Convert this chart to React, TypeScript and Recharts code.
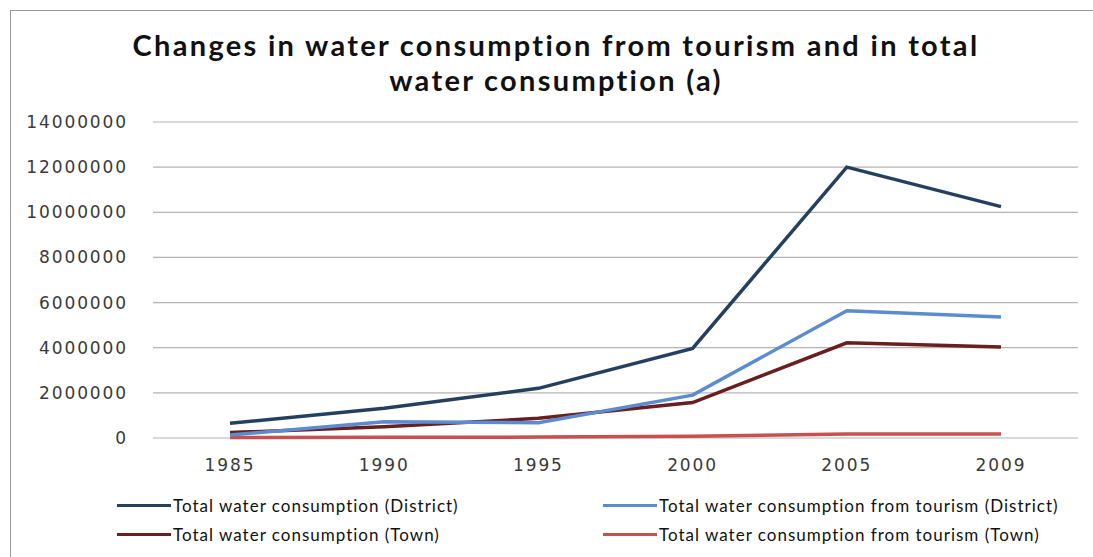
import { LineChart, Line, XAxis, YAxis, CartesianGrid } from "recharts";

const years = ["1985", "1990", "1995", "2000", "2005", "2009"];
const districtTotal = [650000, 1320000, 2200000, 3970000, 12000000, 10250000];
const districtTourism = [130000, 720000, 680000, 1900000, 5640000, 5360000];
const townTotal = [240000, 500000, 870000, 1570000, 4220000, 4030000];
const townTourism = [20000, 30000, 40000, 80000, 180000, 180000];
const yTicks = [0, 2000000, 4000000, 6000000, 8000000, 10000000, 12000000, 14000000];

const SERIES = [
  { key: "districtTotal", name: "Total water consumption (District)", color: "#253F5F" },
  { key: "districtTourism", name: "Total water consumption from tourism (District)", color: "#5B8BD0" },
  { key: "townTotal", name: "Total water consumption (Town)", color: "#6A1F1F" },
  { key: "townTourism", name: "Total water consumption from tourism (Town)", color: "#C8504F" },
];

const data = years.map((year, i) => ({
  year,
  districtTotal: districtTotal[i],
  districtTourism: districtTourism[i],
  townTotal: townTotal[i],
  townTourism: townTourism[i],
}));

const tickStyle = { fontFamily: "DejaVu Sans", fontSize: 17, fill: "#3a3a3a", letterSpacing: 1.9 };

export default function App() {
  return (
    <div style={{ position: "fixed", left: 0, top: 0, width: 1093, height: 557, overflow: "hidden", background: "#fff" }}>
      <div style={{ position: "absolute", left: 10, top: 10, width: 1200, height: 700, borderTop: "1px solid #9a9a9a", borderLeft: "1px solid #9a9a9a" }} />
      <div style={{ position: "absolute", left: 56, top: 27, width: 1000, textAlign: "center", fontFamily: "Lato", fontWeight: 700, fontSize: 29, letterSpacing: 2.3, lineHeight: "35px", color: "#111" }}>
        Changes in water consumption from tourism and in total
        <br />
        water consumption (a)
      </div>
      <div style={{ position: "absolute", left: 0, top: 0 }}>
        <LineChart width={1093} height={557} data={data} margin={{ top: 122, right: 15, bottom: 0, left: 13 }}>
          <CartesianGrid vertical={false} stroke="#b4b4b4" strokeWidth={1.2} />
          <XAxis dataKey="year" height={119} padding={{ left: 77, right: 77 }} axisLine={false} tickLine={false} tickSize={0} tickMargin={21} tick={tickStyle} />
          <YAxis width={140} domain={[0, 14000000]} ticks={yTicks} axisLine={false} tickLine={false} tickSize={0} tickMargin={25} tick={tickStyle} />
          {SERIES.slice().reverse().map((s) => (
            <Line key={s.key} type="linear" dataKey={s.key} name={s.name} stroke={s.color} strokeWidth={3.5} dot={false} isAnimationActive={false} />
          ))}
        </LineChart>
      </div>
      {SERIES.map((s, i) => (
        <div key={s.key} style={{ position: "absolute", left: i % 2 === 0 ? 117 : 603, top: i < 2 ? 495 : 524, display: "flex", alignItems: "center", fontFamily: "Lato", fontSize: 17, letterSpacing: 1, color: "#111", whiteSpace: "nowrap" }}>
          <span style={{ display: "inline-block", width: 54, height: 3.5, background: s.color, marginRight: 2 }} />
          {s.name}
        </div>
      ))}
    </div>
  );
}
